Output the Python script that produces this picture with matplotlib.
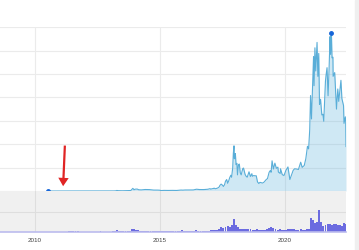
import numpy as np
import pandas as pd
import matplotlib
matplotlib.use('Agg')
import matplotlib.pyplot as plt
import matplotlib.dates as mdates
from matplotlib.patches import Rectangle

# harga penutupan BTC (USD)
price_dates = [
    '2010-07-17', '2010-08-01', '2010-09-01', '2010-10-01', '2010-11-01', '2010-12-01',
    '2011-01-01', '2011-02-01', '2011-03-01', '2011-04-01', '2011-05-01', '2011-06-01',
    '2011-07-01', '2011-08-01', '2011-09-01', '2011-10-01', '2011-11-01', '2011-12-01',
    '2012-01-01', '2012-03-01', '2012-05-01', '2012-07-01', '2012-09-01', '2012-11-01',
    '2013-01-01', '2013-02-01', '2013-03-01', '2013-04-01', '2013-04-10', '2013-05-01',
    '2013-07-01', '2013-09-01', '2013-11-01', '2013-11-30', '2013-12-18',
    '2014-01-01', '2014-02-01', '2014-02-25', '2014-04-01', '2014-06-01', '2014-08-01',
    '2014-10-01', '2014-12-01',
    '2015-01-01', '2015-01-14', '2015-03-01', '2015-05-01', '2015-07-01', '2015-09-01',
    '2015-11-04', '2015-12-01',
    '2016-01-01', '2016-03-01', '2016-05-01', '2016-06-17', '2016-08-01', '2016-10-01',
    '2016-12-01',
    '2017-01-01', '2017-01-12', '2017-02-01', '2017-02-15', '2017-03-01', '2017-03-18',
    '2017-04-01', '2017-04-15', '2017-05-01', '2017-05-15', '2017-05-25', '2017-06-12',
    '2017-07-01', '2017-07-16', '2017-08-01', '2017-08-15', '2017-09-01', '2017-09-15',
    '2017-10-01', '2017-10-15', '2017-11-01', '2017-11-12', '2017-11-28', '2017-12-07',
    '2017-12-17', '2017-12-22', '2017-12-31',
    '2018-01-06', '2018-01-16', '2018-01-28', '2018-02-06', '2018-02-20', '2018-03-05',
    '2018-03-18', '2018-04-01', '2018-04-24', '2018-05-05', '2018-05-28', '2018-06-12',
    '2018-06-28', '2018-07-24', '2018-08-14', '2018-09-04', '2018-09-11', '2018-10-01',
    '2018-10-20', '2018-11-07', '2018-11-25', '2018-12-15', '2018-12-31',
    '2019-01-15', '2019-02-08', '2019-03-01', '2019-04-02', '2019-04-20', '2019-05-14',
    '2019-05-30', '2019-06-12', '2019-06-26', '2019-07-16', '2019-08-06', '2019-08-28',
    '2019-09-19', '2019-09-26', '2019-10-23', '2019-10-27', '2019-11-22', '2019-12-17',
    '2020-01-14', '2020-02-13', '2020-03-12', '2020-03-31', '2020-04-29', '2020-05-20',
    '2020-06-15', '2020-07-15', '2020-08-17', '2020-09-08', '2020-10-08', '2020-10-31',
    '2020-11-24', '2020-12-11', '2020-12-27',
    '2021-01-08', '2021-01-22', '2021-02-08', '2021-02-21', '2021-02-28', '2021-03-13',
    '2021-03-25', '2021-04-13', '2021-04-25', '2021-05-08', '2021-05-19', '2021-06-03',
    '2021-06-22', '2021-07-08', '2021-07-20', '2021-08-14', '2021-08-22', '2021-09-06',
    '2021-09-21', '2021-10-05', '2021-10-20', '2021-10-27', '2021-11-09', '2021-11-18',
    '2021-12-01', '2021-12-04', '2021-12-27',
    '2022-01-10', '2022-01-22', '2022-02-10', '2022-02-24', '2022-03-28', '2022-04-11',
    '2022-05-05', '2022-05-12', '2022-05-31', '2022-06-06', '2022-06-10',
]
price_usd = [
    0.07, 0.06, 0.06, 0.1, 0.25, 0.3,
    0.3, 0.9, 0.9, 0.8, 3.5, 9.0,
    16.7, 13.4, 8.2, 5.0, 3.3, 3.0,
    5.3, 4.9, 5.0, 6.7, 10.2, 10.9,
    13.5, 20, 33, 93, 230, 139,
    97, 141, 211, 1130, 540,
    770, 830, 530, 470, 640, 590,
    390, 380,
    320, 180, 260, 235, 260, 230,
    400, 360,
    430, 435, 450, 760, 620, 610,
    750,
    1000, 780, 990, 1010, 1220, 960,
    1080, 1180, 1420, 1750, 2400, 2950,
    2500, 1950, 2720, 4200, 4900, 3300,
    4400, 5700, 6750, 5900, 9900, 16000,
    19300, 13800, 13900,
    16000, 11300, 11800, 6900, 11300, 11500,
    7800, 6900, 9600, 9800, 7100, 6300,
    5900, 8200, 6200, 7400, 6300, 6600,
    6500, 6500, 3900, 3200, 3700,
    3600, 3400, 3800, 4900, 5300, 8000,
    8700, 8000, 12900, 9400, 11900, 9700,
    10200, 8100, 7500, 9500, 7000, 6600,
    8800, 10300, 4900, 6400, 8800, 9500,
    9400, 9200, 12300, 10100, 10900, 13800,
    19100, 18000, 26200,
    40800, 30800, 46200, 57500, 45000, 61200,
    51300, 63500, 49000, 58800, 37000, 39200,
    32500, 32800, 29800, 47000, 49300, 52700,
    40700, 51500, 66000, 58400, 67500, 56900,
    57200, 49000, 50600,
    41800, 35000, 43600, 38300, 47300, 39500,
    36500, 28900, 31700, 29500, 19000,
]

# volume bulanan (miliar USD), mulai Juli 2010
volume_start = '2010-07-01'
volume_bn = [
    0.01, 0.01, 0.01, 0.02, 0.03, 0.02,
    0.02, 0.03, 0.03, 0.05, 0.08, 0.15, 0.10, 0.08, 0.06, 0.05, 0.04, 0.04,
    0.03, 0.04, 0.03, 0.03, 0.03, 0.04, 0.05, 0.06, 0.05, 0.05, 0.04, 0.04,
    0.05, 0.06, 0.10, 0.25, 0.15, 0.12, 0.10, 0.10, 0.10, 0.12, 0.30, 0.35,
    0.25, 0.20, 0.15, 0.12, 0.10, 0.10, 0.08, 0.08, 0.10, 0.10, 0.10, 0.10,
    0.15, 0.12, 0.10, 0.10, 0.08, 0.08, 0.10, 0.10, 0.10, 0.12, 0.20, 0.15,
    0.12, 0.10, 0.10, 0.10, 0.12, 0.20, 0.15, 0.12, 0.10, 0.10, 0.12, 0.15,
    0.20, 0.20, 0.25, 0.20, 0.35, 0.50, 0.40, 0.50, 0.60, 0.55, 0.70, 1.27,
    0.70, 0.50, 0.35, 0.30, 0.35, 0.30, 0.30, 0.30, 0.25, 0.20, 0.30, 0.25,
    0.20, 0.20, 0.20, 0.30, 0.45, 0.50, 0.45, 0.30, 0.25, 0.30, 0.25, 0.20,
    0.25, 0.30, 0.35, 0.30, 0.35, 0.25, 0.20, 0.30, 0.25, 0.20, 0.30, 0.35,
    1.40, 1.20, 0.90, 1.00, 2.20, 1.00, 0.60, 0.70, 0.80, 0.80, 0.70, 0.80,
    0.80, 0.70, 0.70, 0.60, 0.90, 0.80,
]

year_ticks = ['2010', '2015', '2020']

# panah merah (anotasi)
arrow_tip = ('2011-02-14', 860)
arrow_tail = ('2011-03-15', 20600)

dates = pd.to_datetime(price_dates)
price = np.array(price_usd)
vol_dates = pd.date_range(volume_start, periods=len(volume_bn), freq='MS')
tick_dates = pd.to_datetime([y + '-01-01' for y in year_ticks])

fig = plt.figure(figsize=(3.59, 2.5), dpi=100)
W = 346 / 359
ax = fig.add_axes([0, 0.236, W, 0.658])
axv = fig.add_axes([0, 0.072, W, 0.164], sharex=ax)

# strip abu-abu di kanan
fig.patches.append(Rectangle((355 / 359, 0), 4 / 359, 1, transform=fig.transFigure,
                             color='#efefef', zorder=0))

# grafik harga
ax.fill_between(dates, price, 0, color='#63b4dc', alpha=0.3, lw=0, zorder=2)
ax.plot(dates, price, color='#5aaed8', lw=0.8, zorder=3)
ax.plot(dates[:1], price[:1], 'o', ms=2.5, color='#1565d8', zorder=4)
imax = int(np.argmax(price))
ax.plot(dates[imax:imax + 1], price[imax:imax + 1], 'o', ms=2.5, color='#1565d8', zorder=4)

ax.annotate('', xy=(pd.Timestamp(arrow_tip[0]), arrow_tip[1]),
            xytext=(pd.Timestamp(arrow_tail[0]), arrow_tail[1]),
            arrowprops=dict(arrowstyle='simple,head_width=0.75,head_length=0.6,tail_width=0.16',
                            color='#e02424', lw=0), zorder=5)

left = mdates.date2num(tick_dates[0]) - 1.4 * 365.25
ax.set_xlim(left, mdates.date2num(dates[-1]))
ax.set_ylim(0, 70300)
ax.set_yticks(np.arange(0, 70001, 10000))
ax.set_xticks(tick_dates)
ax.grid(True, color='#ebebeb', lw=0.8, zorder=0)
ax.set_axisbelow(True)
ax.tick_params(length=0, labelbottom=False, labelleft=False)
for s in ax.spines.values():
    s.set_visible(False)

# volume
axv.set_facecolor('#f0f0f0')
axv.bar(vol_dates, volume_bn, width=28, align='edge', color='#6b6be0', lw=0, zorder=2)
axv.set_ylim(0, 4.1)
axv.set_yticks([2.0])
axv.grid(True, color='#dedede', lw=0.8, zorder=0)
axv.set_axisbelow(True)
axv.set_xticks(tick_dates)
axv.set_xticklabels(year_ticks, fontsize=4.5, color='#444444', family='Liberation Sans')
axv.tick_params(length=0, pad=4.5, labelleft=False)
for s in axv.spines.values():
    s.set_visible(False)
axv.spines['bottom'].set_visible(True)
axv.spines['bottom'].set_color('#bcbcee')
axv.spines['bottom'].set_linewidth(1.2)

fig.savefig('out.png', dpi=100)
